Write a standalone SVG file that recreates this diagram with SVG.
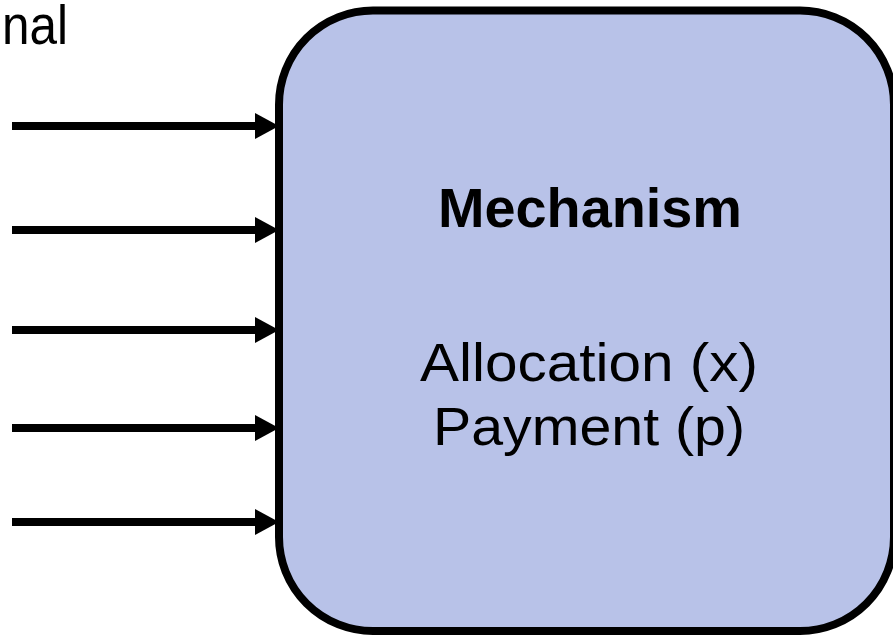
<svg xmlns="http://www.w3.org/2000/svg" width="893" height="635" viewBox="0 0 893 635">
<style>
.t{font-family:"Liberation Sans",Arial,sans-serif;fill:#000}
.c{stroke:#000;stroke-width:8;fill:none}
</style>
<defs>
<marker id="ah" markerUnits="userSpaceOnUse" markerWidth="26" markerHeight="28" refX="0" refY="13" orient="auto">
<path d="M0,0 L24,13 L0,26 Z" fill="#000"/>
</marker>
</defs>
<text class="t" x="2" y="44" font-size="56" textLength="66" lengthAdjust="spacingAndGlyphs">nal</text>
<g id="mechanism">
<rect x="279" y="10.5" width="615" height="620.5" rx="94" ry="94" fill="#B8C2E8" stroke="#000" stroke-width="8"/>
<text class="t" x="590" y="227" font-size="56" font-weight="bold" text-anchor="middle" textLength="304" lengthAdjust="spacingAndGlyphs">Mechanism</text>
<text class="t" x="589" y="381" font-size="54" text-anchor="middle" textLength="338" lengthAdjust="spacingAndGlyphs">Allocation (x)</text>
<text class="t" x="589" y="445" font-size="54" text-anchor="middle" textLength="312" lengthAdjust="spacingAndGlyphs">Payment (p)</text>
</g>
<g id="connectors">
<line class="c" x1="12" y1="126" x2="255" y2="126" marker-end="url(#ah)"/>
<line class="c" x1="12" y1="230" x2="255" y2="230" marker-end="url(#ah)"/>
<line class="c" x1="12" y1="330" x2="255" y2="330" marker-end="url(#ah)"/>
<line class="c" x1="12" y1="428" x2="255" y2="428" marker-end="url(#ah)"/>
<line class="c" x1="12" y1="522" x2="255" y2="522" marker-end="url(#ah)"/>
</g>
</svg>
